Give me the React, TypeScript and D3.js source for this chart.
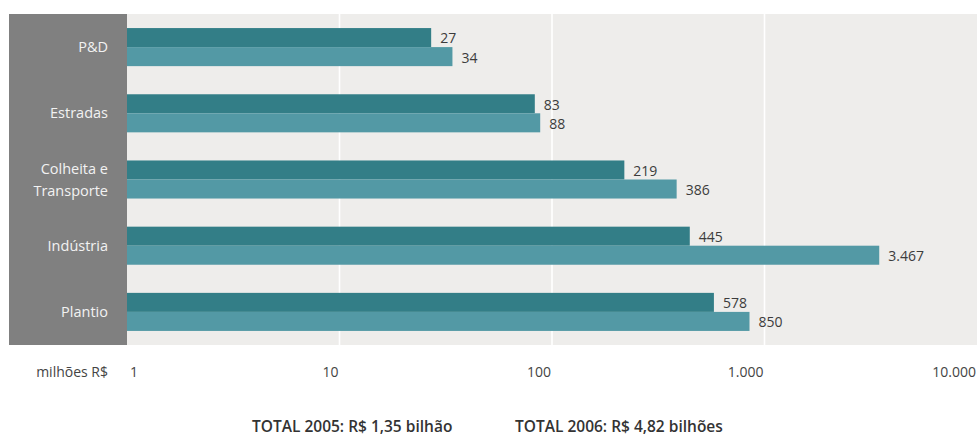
import React, { useRef, useEffect } from 'react';
import * as d3 from 'd3';

const categories = ['P&D', 'Estradas', 'Colheita e Transporte', 'Indústria', 'Plantio'];
const categoryLines = [['P&D'], ['Estradas'], ['Colheita e', 'Transporte'], ['Indústria'], ['Plantio']];
const series = ['2005', '2006'];
const values2005 = [27, 83, 219, 445, 578];
const values2006 = [34, 88, 386, 3467, 850];
const tickValues = [1, 10, 100, 1000, 10000];
const tickLabels = ['1', '10', '100', '1.000', '10.000'];
const unitLabel = 'milhões R$';
const totals = ['TOTAL 2005: R$ 1,35 bilhão', 'TOTAL 2006: R$ 4,82 bilhões'];

const W = 980;
const H = 438;
const FONT = '"Open Sans", "DejaVu Sans", sans-serif';

export default function App() {
  const ref = useRef<SVGSVGElement>(null);

  useEffect(() => {
    const el = ref.current;
    if (!el) return;
    const svg = d3.select(el);
    svg.selectAll('*').remove();

    const top = 14;
    const bottom = 345;
    const panelLeft = 9;
    const plotLeft = 127;
    const plotRight = 977;

    const ptBR = d3.formatLocale({ decimal: ',', thousands: '.', grouping: [3], currency: ['R$ ', ''] });
    const fmt = ptBR.format(',d');

    const x = d3.scaleLog().domain([1, 10000]).range([plotLeft, plotRight]);
    const y = d3
      .scaleBand<string>()
      .domain(categories)
      .range([top, bottom])
      .paddingInner(0.425)
      .paddingOuter(0.2125);
    const ySub = d3.scaleBand<string>().domain(series).range([0, y.bandwidth()]);
    const color = d3.scaleOrdinal<string, string>().domain(series).range(['#337e87', '#5399a5']);

    // background panels
    svg
      .append('rect')
      .attr('x', panelLeft)
      .attr('y', top)
      .attr('width', plotLeft - panelLeft)
      .attr('height', bottom - top)
      .attr('fill', '#808080');
    svg
      .append('rect')
      .attr('x', plotLeft)
      .attr('y', top)
      .attr('width', plotRight - plotLeft)
      .attr('height', bottom - top)
      .attr('fill', '#eeedeb');

    // gridlines
    svg
      .selectAll('.grid')
      .data(tickValues.slice(1, -1))
      .enter()
      .append('line')
      .attr('x1', (d) => x(d))
      .attr('x2', (d) => x(d))
      .attr('y1', top)
      .attr('y2', bottom)
      .attr('stroke', '#ffffff')
      .attr('stroke-width', 1.6);

    const rows = categories.map((c, i) => ({
      cat: c,
      vals: [
        { s: '2005', v: values2005[i] },
        { s: '2006', v: values2006[i] },
      ],
    }));

    const g = svg
      .selectAll('.row')
      .data(rows)
      .enter()
      .append('g')
      .attr('transform', (d) => `translate(0,${y(d.cat)})`);

    g.selectAll('rect')
      .data((d) => d.vals)
      .enter()
      .append('rect')
      .attr('x', plotLeft)
      .attr('y', (d) => ySub(d.s)!)
      .attr('width', (d) => x(d.v) - plotLeft)
      .attr('height', ySub.bandwidth())
      .attr('fill', (d) => color(d.s));

    g.selectAll('text')
      .data((d) => d.vals)
      .enter()
      .append('text')
      .attr('x', (d) => x(d.v) + 9)
      .attr('y', (d) => ySub(d.s)! + ySub.bandwidth() / 2 + 1)
      .attr('dy', '0.35em')
      .attr('fill', '#3c3c3c')
      .attr('font-size', '14px')
      .attr('font-family', FONT)
      .text((d) => fmt(d.v));

    // category labels
    categories.forEach((c, i) => {
      const lines = categoryLines[i];
      const cy = y(c)! + y.bandwidth() / 2;
      const lh = 22;
      lines.forEach((line, j) => {
        svg
          .append('text')
          .attr('x', 108)
          .attr('y', cy + (j - (lines.length - 1) / 2) * lh)
          .attr('dy', '0.35em')
          .attr('text-anchor', 'end')
          .attr('fill', '#f2f2f2')
          .attr('font-size', '14.5px')
          .attr('font-family', FONT)
          .text(line);
      });
    });

    // axis labels
    svg
      .append('text')
      .attr('x', 108)
      .attr('y', 377)
      .attr('text-anchor', 'end')
      .attr('fill', '#444')
      .attr('font-size', '14px')
      .attr('font-family', FONT)
      .text(unitLabel);

    svg
      .selectAll('.tick')
      .data(tickValues)
      .enter()
      .append('text')
      .attr('x', (d, i) => (i === 0 ? x(d) + 3 : x(d) - 1))
      .attr('y', 377)
      .attr('text-anchor', (d, i) => (i === 0 ? 'start' : 'end'))
      .attr('fill', '#444')
      .attr('font-size', '14px')
      .attr('font-family', FONT)
      .text((d, i) => tickLabels[i]);

    // totals
    const totalX = [252, 515];
    totals.forEach((t, i) => {
      svg
        .append('text')
        .attr('x', totalX[i])
        .attr('y', 432)
        .attr('fill', '#333')
        .attr('font-size', '15.5px')
        .attr('font-weight', 600)
        .attr('font-family', FONT)
        .text(t);
    });
  }, []);

  return (
    <svg
      ref={ref}
      width={W}
      height={H}
      style={{ position: 'absolute', left: 0, top: 0, background: '#ffffff' }}
    />
  );
}
